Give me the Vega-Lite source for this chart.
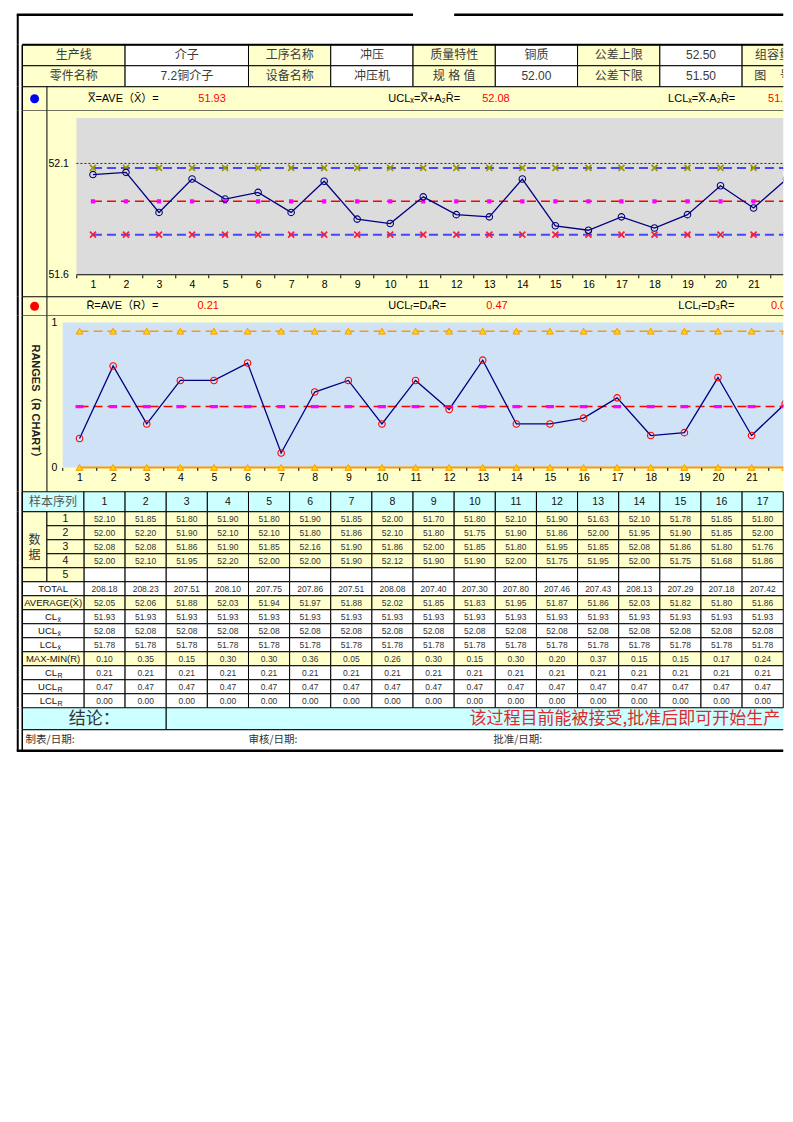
{
  "$schema": "https://vega.github.io/schema/vega-lite/v6.json",
  "background": "#FFFFFF",
  "padding": {"left": 15.25, "top": 12.75, "right": 0, "bottom": 0},
  "bounds": "flush",
  "spacing": 0,
  "config": {
    "view": {"stroke": null},
    "text": {"font": "Liberation Sans, DejaVu Sans, Noto Sans CJK SC"},
    "axis": {"labelFont": "Liberation Sans", "labelOverlap": false}
  },
  "datasets": {
    "samples": [
      {"n": 1, "x1": 52.10, "x2": 52.00, "x3": 52.08, "x4": 52.00, "total": 208.18, "avg": 52.05, "r": 0.10, "cl": 51.93, "ucl": 52.08, "lcl": 51.78, "clr": 0.21, "uclr": 0.47, "lclr": 0},
      {"n": 2, "x1": 51.85, "x2": 52.20, "x3": 52.08, "x4": 52.10, "total": 208.23, "avg": 52.06, "r": 0.35, "cl": 51.93, "ucl": 52.08, "lcl": 51.78, "clr": 0.21, "uclr": 0.47, "lclr": 0},
      {"n": 3, "x1": 51.80, "x2": 51.90, "x3": 51.86, "x4": 51.95, "total": 207.51, "avg": 51.88, "r": 0.15, "cl": 51.93, "ucl": 52.08, "lcl": 51.78, "clr": 0.21, "uclr": 0.47, "lclr": 0},
      {"n": 4, "x1": 51.90, "x2": 52.10, "x3": 51.90, "x4": 52.20, "total": 208.10, "avg": 52.03, "r": 0.30, "cl": 51.93, "ucl": 52.08, "lcl": 51.78, "clr": 0.21, "uclr": 0.47, "lclr": 0},
      {"n": 5, "x1": 51.80, "x2": 52.10, "x3": 51.85, "x4": 52.00, "total": 207.75, "avg": 51.94, "r": 0.30, "cl": 51.93, "ucl": 52.08, "lcl": 51.78, "clr": 0.21, "uclr": 0.47, "lclr": 0},
      {"n": 6, "x1": 51.90, "x2": 51.80, "x3": 52.16, "x4": 52.00, "total": 207.86, "avg": 51.97, "r": 0.36, "cl": 51.93, "ucl": 52.08, "lcl": 51.78, "clr": 0.21, "uclr": 0.47, "lclr": 0},
      {"n": 7, "x1": 51.85, "x2": 51.86, "x3": 51.90, "x4": 51.90, "total": 207.51, "avg": 51.88, "r": 0.05, "cl": 51.93, "ucl": 52.08, "lcl": 51.78, "clr": 0.21, "uclr": 0.47, "lclr": 0},
      {"n": 8, "x1": 52.00, "x2": 52.10, "x3": 51.86, "x4": 52.12, "total": 208.08, "avg": 52.02, "r": 0.26, "cl": 51.93, "ucl": 52.08, "lcl": 51.78, "clr": 0.21, "uclr": 0.47, "lclr": 0},
      {"n": 9, "x1": 51.70, "x2": 51.80, "x3": 52.00, "x4": 51.90, "total": 207.40, "avg": 51.85, "r": 0.30, "cl": 51.93, "ucl": 52.08, "lcl": 51.78, "clr": 0.21, "uclr": 0.47, "lclr": 0},
      {"n": 10, "x1": 51.80, "x2": 51.75, "x3": 51.85, "x4": 51.90, "total": 207.30, "avg": 51.83, "r": 0.15, "cl": 51.93, "ucl": 52.08, "lcl": 51.78, "clr": 0.21, "uclr": 0.47, "lclr": 0},
      {"n": 11, "x1": 52.10, "x2": 51.90, "x3": 51.80, "x4": 52.00, "total": 207.80, "avg": 51.95, "r": 0.30, "cl": 51.93, "ucl": 52.08, "lcl": 51.78, "clr": 0.21, "uclr": 0.47, "lclr": 0},
      {"n": 12, "x1": 51.90, "x2": 51.86, "x3": 51.95, "x4": 51.75, "total": 207.46, "avg": 51.87, "r": 0.20, "cl": 51.93, "ucl": 52.08, "lcl": 51.78, "clr": 0.21, "uclr": 0.47, "lclr": 0},
      {"n": 13, "x1": 51.63, "x2": 52.00, "x3": 51.85, "x4": 51.95, "total": 207.43, "avg": 51.86, "r": 0.37, "cl": 51.93, "ucl": 52.08, "lcl": 51.78, "clr": 0.21, "uclr": 0.47, "lclr": 0},
      {"n": 14, "x1": 52.10, "x2": 51.95, "x3": 52.08, "x4": 52.00, "total": 208.13, "avg": 52.03, "r": 0.15, "cl": 51.93, "ucl": 52.08, "lcl": 51.78, "clr": 0.21, "uclr": 0.47, "lclr": 0},
      {"n": 15, "x1": 51.78, "x2": 51.90, "x3": 51.86, "x4": 51.75, "total": 207.29, "avg": 51.82, "r": 0.15, "cl": 51.93, "ucl": 52.08, "lcl": 51.78, "clr": 0.21, "uclr": 0.47, "lclr": 0},
      {"n": 16, "x1": 51.85, "x2": 51.85, "x3": 51.80, "x4": 51.68, "total": 207.18, "avg": 51.80, "r": 0.17, "cl": 51.93, "ucl": 52.08, "lcl": 51.78, "clr": 0.21, "uclr": 0.47, "lclr": 0},
      {"n": 17, "x1": 51.80, "x2": 52.00, "x3": 51.76, "x4": 51.86, "total": 207.42, "avg": 51.86, "r": 0.24, "cl": 51.93, "ucl": 52.08, "lcl": 51.78, "clr": 0.21, "uclr": 0.47, "lclr": 0},
      {"n": 18, "avg": 51.81, "r": 0.11, "cl": 51.93, "ucl": 52.08, "lcl": 51.78, "clr": 0.21, "uclr": 0.47, "lclr": 0},
      {"n": 19, "avg": 51.87, "r": 0.12, "cl": 51.93, "ucl": 52.08, "lcl": 51.78, "clr": 0.21, "uclr": 0.47, "lclr": 0},
      {"n": 20, "avg": 52.00, "r": 0.31, "cl": 51.93, "ucl": 52.08, "lcl": 51.78, "clr": 0.21, "uclr": 0.47, "lclr": 0},
      {"n": 21, "avg": 51.90, "r": 0.11, "cl": 51.93, "ucl": 52.08, "lcl": 51.78, "clr": 0.21, "uclr": 0.47, "lclr": 0},
      {"n": 22, "avg": 52.03, "r": 0.22, "cl": 51.93, "ucl": 52.08, "lcl": 51.78, "clr": 0.21, "uclr": 0.47, "lclr": 0},
      {"n": 23, "cl": 51.93, "ucl": 52.08, "lcl": 51.78, "clr": 0.21, "uclr": 0.47, "lclr": 0},
      {"n": 24, "cl": 51.93, "ucl": 52.08, "lcl": 51.78, "clr": 0.21, "uclr": 0.47, "lclr": 0},
      {"n": 25, "cl": 51.93, "ucl": 52.08, "lcl": 51.78, "clr": 0.21, "uclr": 0.47, "lclr": 0}
    ],
    "rowspec": [
      {"key": "x1", "ri": 0, "kind": "gray"},
      {"key": "x2", "ri": 1, "kind": "gray"},
      {"key": "x3", "ri": 2, "kind": "gray"},
      {"key": "x4", "ri": 3, "kind": "gray"},
      {"key": "x5", "ri": 4, "kind": "white"},
      {"key": "total", "ri": 5, "kind": "white"},
      {"key": "avg", "ri": 6, "kind": "cyan"},
      {"key": "cl", "ri": 7, "kind": "yellow"},
      {"key": "ucl", "ri": 8, "kind": "yellow"},
      {"key": "lcl", "ri": 9, "kind": "yellow"},
      {"key": "r", "ri": 10, "kind": "cyan"},
      {"key": "clr", "ri": 11, "kind": "yellow"},
      {"key": "uclr", "ri": 12, "kind": "yellow"},
      {"key": "lclr", "ri": 13, "kind": "yellow"}
    ],
    "rowlabels": [
      {"lab": "数\n\n据", "sub": "", "c0": -1.5, "c1": -0.9, "r0": 0, "r1": 4, "kind": "gray"},
      {"lab": "", "sub": "", "c0": -1.5, "c1": -0.9, "r0": 4, "r1": 5, "kind": "gray"},
      {"lab": "1", "sub": "", "c0": -0.9, "c1": 0, "r0": 0, "r1": 1, "kind": "gray"},
      {"lab": "2", "sub": "", "c0": -0.9, "c1": 0, "r0": 1, "r1": 2, "kind": "gray"},
      {"lab": "3", "sub": "", "c0": -0.9, "c1": 0, "r0": 2, "r1": 3, "kind": "gray"},
      {"lab": "4", "sub": "", "c0": -0.9, "c1": 0, "r0": 3, "r1": 4, "kind": "gray"},
      {"lab": "5", "sub": "", "c0": -0.9, "c1": 0, "r0": 4, "r1": 5, "kind": "gray"},
      {"lab": "TOTAL", "sub": "", "c0": -1.5, "c1": 0, "r0": 5, "r1": 6, "kind": "white"},
      {"lab": "AVERAGE(X\u0304)", "sub": "", "c0": -1.5, "c1": 0, "r0": 6, "r1": 7, "kind": "cyan"},
      {"lab": "CL", "sub": "x\u0304", "c0": -1.5, "c1": 0, "r0": 7, "r1": 8, "kind": "yellow"},
      {"lab": "UCL", "sub": "x\u0304", "c0": -1.5, "c1": 0, "r0": 8, "r1": 9, "kind": "yellow"},
      {"lab": "LCL", "sub": "x\u0304", "c0": -1.5, "c1": 0, "r0": 9, "r1": 10, "kind": "yellow"},
      {"lab": "MAX-MIN(R)", "sub": "", "c0": -1.5, "c1": 0, "r0": 10, "r1": 11, "kind": "cyan"},
      {"lab": "CL", "sub": "R", "c0": -1.5, "c1": 0, "r0": 11, "r1": 12, "kind": "yellow"},
      {"lab": "UCL", "sub": "R", "c0": -1.5, "c1": 0, "r0": 12, "r1": 13, "kind": "yellow"},
      {"lab": "LCL", "sub": "R", "c0": -1.5, "c1": 0, "r0": 13, "r1": 14, "kind": "yellow"}
    ],
    "headtable": [
      {"t": "生产线", "c0": -1.5, "c1": 1, "r0": 0, "kind": "label"},
      {"t": "介子", "c0": 1, "c1": 4, "r0": 0, "kind": "value"},
      {"t": "工序名称", "c0": 4, "c1": 6, "r0": 0, "kind": "label"},
      {"t": "冲压", "c0": 6, "c1": 8, "r0": 0, "kind": "value"},
      {"t": "质量特性", "c0": 8, "c1": 10, "r0": 0, "kind": "label"},
      {"t": "铜质", "c0": 10, "c1": 12, "r0": 0, "kind": "value"},
      {"t": "公差上限", "c0": 12, "c1": 14, "r0": 0, "kind": "label"},
      {"t": "52.50", "c0": 14, "c1": 16, "r0": 0, "kind": "value"},
      {"t": "组容量", "c0": 16, "c1": 17.5, "r0": 0, "kind": "label"},
      {"t": "零件名称", "c0": -1.5, "c1": 1, "r0": 1, "kind": "label"},
      {"t": "7.2铜介子", "c0": 1, "c1": 4, "r0": 1, "kind": "value"},
      {"t": "设备名称", "c0": 4, "c1": 6, "r0": 1, "kind": "label"},
      {"t": "冲压机", "c0": 6, "c1": 8, "r0": 1, "kind": "value"},
      {"t": "规 格 值", "c0": 8, "c1": 10, "r0": 1, "kind": "label"},
      {"t": "52.00", "c0": 10, "c1": 12, "r0": 1, "kind": "value"},
      {"t": "公差下限", "c0": 12, "c1": 14, "r0": 1, "kind": "label"},
      {"t": "51.50", "c0": 14, "c1": 16, "r0": 1, "kind": "value"},
      {"t": "图\u00a0\u00a0\u00a0\u00a0号", "c0": 16, "c1": 17.5, "r0": 1, "kind": "label"}
    ]
  },
  "vconcat": [
    {
      "width": 761, "height": 30,
      "data": {"values": [{}]},
      "layer": [
        {"mark": {"type": "rule", "xOffset": -4.5, "strokeWidth": 2, "color": "#000000"},
         "encoding": {"x": {"datum": -1.5, "scale": {"domain": [-1.5, 17], "nice": false, "zero": false}, "axis": null}}},
        {"mark": {"type": "rule", "xOffset": -5.5, "strokeWidth": 2.5, "color": "#000000"},
         "encoding": {"x": {"datum": -1.5, "axis": null}, "x2": {"datum": 8}, "y": {"datum": 1, "scale": {"domain": [0, 1], "nice": false, "zero": false}, "axis": null}}},
        {"mark": {"type": "rule", "strokeWidth": 2.5, "color": "#000000"},
         "encoding": {"x": {"datum": 9, "axis": null}, "x2": {"datum": 17}, "y": {"datum": 1, "axis": null}}}
      ]
    },
    {
      "width": 761, "height": 42,
      "layer": [
        {
          "data": {"name": "headtable"},
          "transform": [
            {"calculate": "(datum.c0 + datum.c1) / 2", "as": "cx"},
            {"calculate": "datum.r0 + 0.5", "as": "cy"},
            {"calculate": "datum.r0 + 1", "as": "r1"}
          ],
          "layer": [
            {"mark": {"type": "rect", "stroke": "#000000", "strokeWidth": 1, "clip": true},
             "encoding": {
               "x": {"field": "c0", "type": "quantitative", "scale": {"domain": [-1.5, 17], "nice": false, "zero": false}, "axis": null},
               "x2": {"field": "c1"},
               "y": {"field": "r0", "type": "quantitative", "scale": {"domain": [0, 2], "reverse": true, "nice": false, "zero": false}, "axis": null},
               "y2": {"field": "r1"},
               "fill": {"field": "kind", "type": "nominal", "scale": {"domain": ["label", "value"], "range": ["#FFFFCC", "#FFFFFF"]}, "legend": null}
             }},
            {"mark": {"type": "text", "fontSize": 12, "color": "#3A3A3A", "clip": true},
             "encoding": {
               "x": {"field": "cx", "type": "quantitative", "axis": null},
               "y": {"field": "cy", "type": "quantitative", "axis": null},
               "text": {"field": "t"}
             }}
          ]
        },
        {"data": {"values": [{}]}, "mark": {"type": "rule", "strokeWidth": 2, "color": "#000000"},
         "encoding": {"x": {"datum": -1.5, "axis": null}, "x2": {"datum": 17}, "y": {"datum": 0, "axis": null}}},
        {"data": {"values": [{}]}, "mark": {"type": "rule", "xOffset": -4.5, "strokeWidth": 2, "color": "#000000"},
         "encoding": {"x": {"datum": -1.5, "axis": null}}},
        {"data": {"values": [{}]}, "mark": {"type": "rule", "strokeWidth": 1.5, "color": "#000000"},
         "encoding": {"x": {"datum": -1.5, "axis": null}}}
      ]
    },
    {
      "width": 761, "height": 24,
      "view": {"fill": "#FFFFCC"},
      "layer": [
        {"data": {"values": [{}]}, "mark": {"type": "rule", "xOffset": -4.5, "strokeWidth": 2, "color": "#000000"},
         "encoding": {"x": {"datum": -1.5, "scale": {"domain": [-1.5, 17], "nice": false, "zero": false}, "axis": null}}},
        {"data": {"values": [{}]}, "mark": {"type": "rule", "strokeWidth": 1.5, "color": "#000000"},
         "encoding": {"x": {"datum": -1.5, "axis": null}}},
        {"data": {"values": [{}]}, "mark": {"type": "rule", "strokeWidth": 1, "color": "#000000"},
         "encoding": {"x": {"datum": -0.9, "axis": null}}},
        {"data": {"values": [{}]}, "mark": {"type": "rule", "strokeWidth": 1, "color": "#000000"},
         "encoding": {"x": {"datum": -1.5, "axis": null}, "x2": {"datum": 17}, "y": {"datum": 1, "scale": {"domain": [0, 1], "nice": false, "zero": false}, "axis": null}}},
        {"data": {"values": [{}]}, "mark": {"type": "rule", "strokeWidth": 1, "color": "#000000"},
         "encoding": {"x": {"datum": -1.5, "axis": null}, "x2": {"datum": 17}, "y": {"datum": 0, "axis": null}}},
        {"data": {"values": [{}]}, "mark": {"type": "point", "filled": true, "color": "#0000FF", "size": 80, "opacity": 1},
         "encoding": {"x": {"datum": -1.2, "axis": null}}},
        {"data": {"values": [{"t": "X\u033f=AVE\uff08X\u0304\uff09="}]}, "mark": {"type": "text", "align": "left", "fontSize": 11, "color": "#000000"},
         "encoding": {"x": {"datum": 0.1, "axis": null}, "text": {"field": "t"}}},
        {"data": {"values": [{"t": "51.93"}]}, "mark": {"type": "text", "align": "left", "fontSize": 11, "color": "#FF0000"},
         "encoding": {"x": {"datum": 2.78, "axis": null}, "text": {"field": "t"}}},
        {"data": {"values": [{"t": "UCL\u2093=X\u033f+A\u2082R\u0304="}]}, "mark": {"type": "text", "align": "left", "fontSize": 11, "color": "#000000"},
         "encoding": {"x": {"datum": 7.4, "axis": null}, "text": {"field": "t"}}},
        {"data": {"values": [{"t": "52.08"}]}, "mark": {"type": "text", "align": "left", "fontSize": 11, "color": "#FF0000"},
         "encoding": {"x": {"datum": 9.68, "axis": null}, "text": {"field": "t"}}},
        {"data": {"values": [{"t": "LCL\u2093=X\u033f-A\u2082R\u0304="}]}, "mark": {"type": "text", "align": "left", "fontSize": 11, "color": "#000000"},
         "encoding": {"x": {"datum": 14.2, "axis": null}, "text": {"field": "t"}}},
        {"data": {"values": [{"t": "51.78"}]}, "mark": {"type": "text", "align": "left", "fontSize": 11, "color": "#FF0000", "clip": true},
         "encoding": {"x": {"datum": 16.63, "axis": null}, "text": {"field": "t"}}}
      ]
    },
    {
      "width": 761, "height": 186,
      "view": {"fill": "#FFFFCC"},
      "resolve": {"scale": {"x": "independent", "y": "independent"}},
      "layer": [
        {
          "data": {"values": [{}]},
          "layer": [
            {"mark": {"type": "rule", "xOffset": -4.5, "strokeWidth": 2, "color": "#000000"},
             "encoding": {"x": {"datum": -1.5, "scale": {"domain": [-1.5, 17], "nice": false, "zero": false}, "axis": null}}},
            {"mark": {"type": "rule", "strokeWidth": 1.5, "color": "#000000"},
             "encoding": {"x": {"datum": -1.5, "axis": null}}},
            {"mark": {"type": "rule", "strokeWidth": 1, "color": "#000000"},
             "encoding": {"x": {"datum": -0.9, "axis": null}}}
          ]
        },
        {
          "layer": [
            {
              "data": {"values": [{}]},
              "encoding": {
                "x": {"datum": 0.5, "axis": {"title": null, "orient": "bottom", "offset": -22, "zindex": 2,
                               "values": [0.5, 1.5, 2.5, 3.5, 4.5, 5.5, 6.5, 7.5, 8.5, 9.5, 10.5, 11.5, 12.5, 13.5, 14.5, 15.5, 16.5, 17.5, 18.5, 19.5, 20.5, 21.5],
                               "labelExpr": "datum.value < 21 ? format(datum.value + 0.5, 'd') : ''",
                               "labelOffset": 16.5, "domain": false, "grid": false, "ticks": true, "tickSize": 3,
                               "tickColor": "#000000", "tickWidth": 1, "labelPadding": 2, "labelFontSize": 10.5,
                               "labelColor": "#000000", "labelOverlap": false, "labelFlush": false, "labelBound": false}},
                "x2": {"datum": 25.5},
                "y": {"datum": 51.6, "axis": {"title": null, "orient": "left", "offset": -54.2, "zindex": 2, "values": [51.6, 52.1], "format": ".1f",
                               "domain": false, "ticks": false, "tickSize": 0, "grid": false, "labelPadding": 8,
                               "labelFontSize": 10.5, "labelColor": "#000000", "labelOverlap": false, "labelFlush": false}}
              },
              "layer": [
                {"mark": {"type": "rect", "fill": "#DCDCDC", "clip": true}, "encoding": {"y2": {"datum": 52.304}}},
                {"mark": {"type": "rule", "color": "#000000", "strokeWidth": 1, "clip": true}, "encoding": {}},
                {"mark": {"type": "rule", "color": "#800000", "strokeDash": [2, 2], "strokeWidth": 1, "clip": true},
                 "encoding": {"y": {"datum": 52.1, "axis": {"title": null, "orient": "left", "offset": -54.2, "zindex": 2, "values": [51.6, 52.1], "format": ".1f",
                               "domain": false, "ticks": false, "tickSize": 0, "grid": false, "labelPadding": 8,
                               "labelFontSize": 10.5, "labelColor": "#000000", "labelOverlap": false, "labelFlush": false}}}}
              ]
            },
            {
              "data": {"name": "samples"},
              "transform": [{"fold": ["ucl", "cl", "lcl", "avg"], "as": ["key", "val"]}],
              "encoding": {
                "x": {"field": "n", "type": "quantitative",
                      "scale": {"domain": [-1.1405, 21.899], "nice": false, "zero": false},
                      "axis": {"title": null, "orient": "bottom", "offset": -22, "zindex": 2,
                               "values": [0.5, 1.5, 2.5, 3.5, 4.5, 5.5, 6.5, 7.5, 8.5, 9.5, 10.5, 11.5, 12.5, 13.5, 14.5, 15.5, 16.5, 17.5, 18.5, 19.5, 20.5, 21.5],
                               "labelExpr": "datum.value < 21 ? format(datum.value + 0.5, 'd') : ''",
                               "labelOffset": 16.5, "domain": false, "grid": false, "ticks": true, "tickSize": 3,
                               "tickColor": "#000000", "tickWidth": 1, "labelPadding": 2, "labelFontSize": 10.5,
                               "labelColor": "#000000", "labelOverlap": false, "labelFlush": false, "labelBound": false}},
                "y": {"field": "val", "type": "quantitative",
                      "scale": {"domain": [51.5012, 52.3367], "nice": false, "zero": false},
                      "axis": {"title": null, "orient": "left", "offset": -54.2, "zindex": 2, "values": [51.6, 52.1], "format": ".1f",
                               "domain": false, "ticks": false, "tickSize": 0, "grid": false, "labelPadding": 8,
                               "labelFontSize": 10.5, "labelColor": "#000000", "labelOverlap": false, "labelFlush": false}}
              },
              "layer": [
                {"transform": [{"filter": "datum.key == 'lcl'"}], "mark": {"type": "line", "color": "#4646FF", "strokeWidth": 2, "strokeDash": [9, 5], "clip": true}, "encoding": {}},
                {"transform": [{"filter": "datum.key == 'ucl'"}], "mark": {"type": "line", "color": "#4646FF", "strokeWidth": 2, "strokeDash": [9, 5], "clip": true}, "encoding": {}},
                {"transform": [{"filter": "datum.key == 'cl'"}], "mark": {"type": "line", "color": "#FF0000", "strokeWidth": 1.5, "strokeDash": [9, 5], "clip": true}, "encoding": {}},
                {"transform": [{"filter": "datum.key == 'avg'"}], "mark": {"type": "line", "color": "#000080", "strokeWidth": 1.3, "clip": true}, "encoding": {}},
                {"transform": [{"filter": "datum.key == 'ucl'"}], "mark": {"type": "point", "shape": "M-1,-1L1,1M-1,1L1,-1", "filled": false, "color": "#9A9A00", "strokeWidth": 1.7, "size": 36, "opacity": 1, "clip": true}, "encoding": {}},
                {"transform": [{"filter": "datum.key == 'lcl'"}], "mark": {"type": "point", "shape": "M-1,-1L1,1M-1,1L1,-1", "filled": false, "color": "#FF1A3C", "strokeWidth": 1.7, "size": 36, "opacity": 1, "clip": true}, "encoding": {}},
                {"transform": [{"filter": "datum.key == 'cl'"}], "mark": {"type": "point", "shape": "square", "filled": true, "color": "#FF00FF", "size": 18, "opacity": 1, "clip": true}, "encoding": {}},
                {"transform": [{"filter": "datum.key == 'avg'"}], "mark": {"type": "point", "shape": "circle", "filled": false, "color": "#000080", "strokeWidth": 1.1, "size": 42, "opacity": 1, "clip": true}, "encoding": {}}
              ]
            }
          ]
        }
      ]
    },
    {
      "width": 761, "height": 19,
      "view": {"fill": "#FFFFCC"},
      "layer": [
        {"data": {"values": [{}]}, "mark": {"type": "rule", "xOffset": -4.5, "strokeWidth": 2, "color": "#000000"},
         "encoding": {"x": {"datum": -1.5, "scale": {"domain": [-1.5, 17], "nice": false, "zero": false}, "axis": null}}},
        {"data": {"values": [{}]}, "mark": {"type": "rule", "strokeWidth": 1.5, "color": "#000000"},
         "encoding": {"x": {"datum": -1.5, "axis": null}}},
        {"data": {"values": [{}]}, "mark": {"type": "rule", "strokeWidth": 1, "color": "#000000"},
         "encoding": {"x": {"datum": -0.9, "axis": null}}},
        {"data": {"values": [{}]}, "mark": {"type": "rule", "strokeWidth": 1, "color": "#000000"},
         "encoding": {"x": {"datum": -1.5, "axis": null}, "x2": {"datum": 17}, "y": {"datum": 1, "scale": {"domain": [0, 1], "nice": false, "zero": false}, "axis": null}}},
        {"data": {"values": [{}]}, "mark": {"type": "rule", "strokeWidth": 1, "color": "#000000"},
         "encoding": {"x": {"datum": -1.5, "axis": null}, "x2": {"datum": 17}, "y": {"datum": 0, "axis": null}}},
        {"data": {"values": [{}]}, "mark": {"type": "point", "filled": true, "color": "#FF0000", "size": 80, "opacity": 1},
         "encoding": {"x": {"datum": -1.2, "axis": null}}},
        {"data": {"values": [{"t": "R\u0304=AVE\uff08R\uff09="}]}, "mark": {"type": "text", "align": "left", "fontSize": 11, "color": "#000000"},
         "encoding": {"x": {"datum": 0.06, "axis": null}, "text": {"field": "t"}}},
        {"data": {"values": [{"t": "0.21"}]}, "mark": {"type": "text", "align": "left", "fontSize": 11, "color": "#FF0000"},
         "encoding": {"x": {"datum": 2.76, "axis": null}, "text": {"field": "t"}}},
        {"data": {"values": [{"t": "UCL\u1d63=D\u2084R\u0304="}]}, "mark": {"type": "text", "align": "left", "fontSize": 11, "color": "#000000"},
         "encoding": {"x": {"datum": 7.4, "axis": null}, "text": {"field": "t"}}},
        {"data": {"values": [{"t": "0.47"}]}, "mark": {"type": "text", "align": "left", "fontSize": 11, "color": "#FF0000"},
         "encoding": {"x": {"datum": 9.78, "axis": null}, "text": {"field": "t"}}},
        {"data": {"values": [{"t": "LCL\u1d63=D\u2083R\u0304="}]}, "mark": {"type": "text", "align": "left", "fontSize": 11, "color": "#000000"},
         "encoding": {"x": {"datum": 14.45, "axis": null}, "text": {"field": "t"}}},
        {"data": {"values": [{"t": "0.00"}]}, "mark": {"type": "text", "align": "left", "fontSize": 11, "color": "#FF0000", "clip": true},
         "encoding": {"x": {"datum": 16.7, "axis": null}, "text": {"field": "t"}}}
      ]
    },
    {
      "width": 761, "height": 176,
      "view": {"fill": "#FFFFCC"},
      "resolve": {"scale": {"x": "independent", "y": "independent"}},
      "layer": [
        {
          "data": {"values": [{}]},
          "layer": [
            {"mark": {"type": "rule", "xOffset": -4.5, "strokeWidth": 2, "color": "#000000"},
             "encoding": {"x": {"datum": -1.5, "scale": {"domain": [-1.5, 17], "nice": false, "zero": false}, "axis": null}}},
            {"mark": {"type": "rule", "strokeWidth": 1.5, "color": "#000000"},
             "encoding": {"x": {"datum": -1.5, "axis": null}}},
            {"mark": {"type": "rule", "strokeWidth": 1, "color": "#000000"},
             "encoding": {"x": {"datum": -0.9, "axis": null}}},
            {"mark": {"type": "text", "angle": 90, "fontSize": 11, "fontWeight": "bold", "color": "#222222"},
             "encoding": {"x": {"datum": -1.2, "axis": null}, "text": {"value": "RANGES\uff08R CHART\uff09"}}}
          ]
        },
        {
          "layer": [
            {"data": {"values": [{}]}, "mark": {"type": "rect", "fill": "#CFE2F6", "clip": true},
             "encoding": {
               "x": {"datum": 0.5, "axis": {"title": null, "orient": "bottom", "offset": -24.3, "zindex": 2,
                               "values": [0.5, 1.5, 2.5, 3.5, 4.5, 5.5, 6.5, 7.5, 8.5, 9.5, 10.5, 11.5, 12.5, 13.5, 14.5, 15.5, 16.5, 17.5, 18.5, 19.5, 20.5, 21.5],
                               "labelExpr": "datum.value < 21 ? format(datum.value + 0.5, 'd') : ''",
                               "labelOffset": 16.8, "domain": false, "grid": false, "ticks": true, "tickSize": 3,
                               "tickColor": "#000000", "tickWidth": 1, "labelPadding": 2, "labelFontSize": 10.5,
                               "labelColor": "#000000", "labelOverlap": false, "labelFlush": false, "labelBound": false}},
               "x2": {"datum": 25.5},
               "y": {"datum": 0, "axis": {"title": null, "orient": "left", "offset": -40.5, "zindex": 2, "values": [0, 0.5],
                               "labelExpr": "datum.value > 0.25 ? '1' : '0'",
                               "domain": false, "ticks": false, "tickSize": 0, "grid": false, "labelPadding": 6,
                               "labelFontSize": 10.5, "labelColor": "#000000", "labelOverlap": false, "labelFlush": false}},
               "y2": {"datum": 0.5}}},
            {
              "data": {"name": "samples"},
              "transform": [{"fold": ["uclr", "clr", "lclr", "r"], "as": ["key", "val"]}],
              "encoding": {
                "x": {"field": "n", "type": "quantitative",
                      "scale": {"domain": [-0.705, 21.943], "nice": false, "zero": false},
                      "axis": {"title": null, "orient": "bottom", "offset": -24.3, "zindex": 2,
                               "values": [0.5, 1.5, 2.5, 3.5, 4.5, 5.5, 6.5, 7.5, 8.5, 9.5, 10.5, 11.5, 12.5, 13.5, 14.5, 15.5, 16.5, 17.5, 18.5, 19.5, 20.5, 21.5],
                               "labelExpr": "datum.value < 21 ? format(datum.value + 0.5, 'd') : ''",
                               "labelOffset": 16.8, "domain": false, "grid": false, "ticks": true, "tickSize": 3,
                               "tickColor": "#000000", "tickWidth": 1, "labelPadding": 2, "labelFontSize": 10.5,
                               "labelColor": "#000000", "labelOverlap": false, "labelFlush": false, "labelBound": false}},
                "y": {"field": "val", "type": "quantitative",
                      "scale": {"domain": [-0.0838, 0.5231], "nice": false, "zero": false},
                      "axis": {"title": null, "orient": "left", "offset": -40.5, "zindex": 2, "values": [0, 0.5],
                               "labelExpr": "datum.value > 0.25 ? '1' : '0'",
                               "domain": false, "ticks": false, "tickSize": 0, "grid": false, "labelPadding": 6,
                               "labelFontSize": 10.5, "labelColor": "#000000", "labelOverlap": false, "labelFlush": false}}
              },
              "layer": [
                {"transform": [{"filter": "datum.key == 'lclr'"}], "mark": {"type": "line", "color": "#FF9900", "strokeWidth": 2, "clip": true}, "encoding": {}},
                {"transform": [{"filter": "datum.key == 'uclr'"}], "mark": {"type": "line", "color": "#FF9900", "strokeWidth": 1.5, "strokeDash": [9, 5], "clip": true}, "encoding": {}},
                {"transform": [{"filter": "datum.key == 'clr'"}], "mark": {"type": "line", "color": "#FF0000", "strokeWidth": 1.5, "strokeDash": [9, 5], "clip": true}, "encoding": {}},
                {"transform": [{"filter": "datum.key == 'r'"}], "mark": {"type": "line", "color": "#000080", "strokeWidth": 1.3, "clip": true}, "encoding": {}},
                {"transform": [{"filter": "datum.key == 'uclr' || datum.key == 'lclr'"}], "mark": {"type": "point", "shape": "triangle-up", "filled": true, "color": "#FFD700", "stroke": "#FF9900", "strokeWidth": 1, "size": 45, "opacity": 1, "clip": true}, "encoding": {}},
                {"transform": [{"filter": "datum.key == 'clr'"}], "mark": {"type": "point", "shape": "M-1,-0.4H1V0.4H-1Z", "filled": true, "color": "#FF00FF", "size": 64, "opacity": 1, "clip": true}, "encoding": {}},
                {"transform": [{"filter": "datum.key == 'r'"}], "mark": {"type": "point", "shape": "circle", "filled": false, "color": "#FF0000", "strokeWidth": 1.1, "size": 42, "opacity": 1, "clip": true}, "encoding": {}}
              ]
            }
          ]
        }
      ]
    },
    {
      "width": 761, "height": 20,
      "layer": [
        {"data": {"values": [{"t": "样本序列", "c0": -1.5, "c1": 0}]},
         "layer": [
           {"mark": {"type": "rect", "fill": "#CCFFFF", "stroke": "#000000", "strokeWidth": 1},
            "encoding": {"x": {"field": "c0", "type": "quantitative", "scale": {"domain": [-1.5, 17], "nice": false, "zero": false}, "axis": null}, "x2": {"field": "c1"}}},
           {"mark": {"type": "text", "fontSize": 12, "color": "#555555", "font": "Noto Sans CJK SC"},
            "encoding": {"x": {"datum": -0.75, "axis": null}, "text": {"field": "t"}}}
         ]},
        {"data": {"name": "samples"},
         "transform": [{"filter": "datum.n <= 17"}, {"calculate": "datum.n - 1", "as": "c0"}, {"calculate": "datum.n - 0.5", "as": "cx"}],
         "layer": [
           {"mark": {"type": "rect", "fill": "#CCFFFF", "stroke": "#000000", "strokeWidth": 1},
            "encoding": {"x": {"field": "c0", "type": "quantitative", "axis": null}, "x2": {"field": "n"}}},
           {"mark": {"type": "text", "fontSize": 10.5, "color": "#111111"},
            "encoding": {"x": {"field": "cx", "type": "quantitative", "axis": null}, "text": {"field": "n", "type": "quantitative"}}}
         ]},
        {"data": {"values": [{}]}, "mark": {"type": "rule", "xOffset": -4.5, "strokeWidth": 2, "color": "#000000"},
         "encoding": {"x": {"datum": -1.5, "axis": null}}},
        {"data": {"values": [{}]}, "mark": {"type": "rule", "strokeWidth": 1.5, "color": "#000000"},
         "encoding": {"x": {"datum": -1.5, "axis": null}}}
      ]
    },
    {
      "width": 761, "height": 196,
      "layer": [
        {
          "data": {"name": "samples"},
          "transform": [
            {"filter": "datum.n <= 17"},
            {"fold": ["x1", "x2", "x3", "x4", "x5", "total", "avg", "cl", "ucl", "lcl", "r", "clr", "uclr", "lclr"], "as": ["key", "val"]},
            {"lookup": "key", "from": {"data": {"name": "rowspec"}, "key": "key", "fields": ["ri", "kind"]}},
            {"calculate": "datum.n - 1", "as": "c0"},
            {"calculate": "datum.ri + 1", "as": "r1"},
            {"calculate": "datum.n - 0.5", "as": "cx"},
            {"calculate": "datum.ri + 0.5", "as": "cy"}
          ],
          "layer": [
            {"mark": {"type": "rect", "stroke": "#000000", "strokeWidth": 1},
             "encoding": {
               "x": {"field": "c0", "type": "quantitative", "scale": {"domain": [-1.5, 17], "nice": false, "zero": false}, "axis": null},
               "x2": {"field": "n"},
               "y": {"field": "ri", "type": "quantitative", "scale": {"domain": [0, 14], "reverse": true, "nice": false, "zero": false}, "axis": null},
               "y2": {"field": "r1"},
               "fill": {"field": "kind", "type": "nominal", "scale": {"domain": ["gray", "white", "cyan", "yellow"], "range": ["#C0C0C0", "#FFFFFF", "#CCFFFF", "#FFFFCC"]}, "legend": null}
             }},
            {"transform": [{"filter": "isValid(datum.val)"}],
             "mark": {"type": "text", "fontSize": 8.5, "color": "#333333"},
             "encoding": {
               "x": {"field": "cx", "type": "quantitative", "axis": null},
               "y": {"field": "cy", "type": "quantitative", "axis": null},
               "text": {"field": "val", "type": "quantitative", "format": ".2f"}
             }}
          ]
        },
        {
          "data": {"name": "rowlabels"},
          "transform": [
            {"calculate": "(datum.c0 + datum.c1) / 2", "as": "cx"},
            {"calculate": "(datum.r0 + datum.r1) / 2", "as": "cy"}
          ],
          "layer": [
            {"mark": {"type": "rect", "stroke": "#000000", "strokeWidth": 1},
             "encoding": {
               "x": {"field": "c0", "type": "quantitative", "axis": null},
               "x2": {"field": "c1"},
               "y": {"field": "r0", "type": "quantitative", "axis": null},
               "y2": {"field": "r1"},
               "fill": {"field": "kind", "type": "nominal", "legend": null}
             }},
            {"transform": [{"filter": "datum.c1 == -0.9"}],
             "mark": {"type": "text", "fontSize": 12, "color": "#333333", "lineBreak": "\n", "lineHeight": 15, "font": "Noto Sans CJK SC"},
             "encoding": {"x": {"field": "cx", "type": "quantitative", "axis": null}, "y": {"field": "cy", "type": "quantitative", "axis": null}, "text": {"field": "lab"}}},
            {"transform": [{"filter": "datum.c0 == -0.9"}],
             "mark": {"type": "text", "fontSize": 10.5, "color": "#111111"},
             "encoding": {"x": {"field": "cx", "type": "quantitative", "axis": null}, "y": {"field": "cy", "type": "quantitative", "axis": null}, "text": {"field": "lab"}}},
            {"transform": [{"filter": "datum.c0 == -1.5 && datum.c1 == 0 && datum.sub == ''"}],
             "mark": {"type": "text", "fontSize": 9.5, "color": "#111111"},
             "encoding": {"x": {"field": "cx", "type": "quantitative", "axis": null}, "y": {"field": "cy", "type": "quantitative", "axis": null}, "text": {"field": "lab"}}},
            {"transform": [{"filter": "datum.sub != ''"}],
             "mark": {"type": "text", "fontSize": 9.5, "color": "#111111", "align": "right", "dx": 4},
             "encoding": {"x": {"field": "cx", "type": "quantitative", "axis": null}, "y": {"field": "cy", "type": "quantitative", "axis": null}, "text": {"field": "lab"}}},
            {"transform": [{"filter": "datum.sub != ''"}],
             "mark": {"type": "text", "fontSize": 7, "color": "#111111", "align": "left", "dx": 4.5, "dy": 3},
             "encoding": {"x": {"field": "cx", "type": "quantitative", "axis": null}, "y": {"field": "cy", "type": "quantitative", "axis": null}, "text": {"field": "sub"}}}
          ]
        },
        {"data": {"values": [{}]}, "mark": {"type": "rule", "xOffset": -4.5, "strokeWidth": 2, "color": "#000000"},
         "encoding": {"x": {"datum": -1.5, "axis": null}}},
        {"data": {"values": [{}]}, "mark": {"type": "rule", "strokeWidth": 1.5, "color": "#000000"},
         "encoding": {"x": {"datum": -1.5, "axis": null}}}
      ]
    },
    {
      "width": 761, "height": 22,
      "layer": [
        {
          "data": {"values": [
            {"t": "结论：", "c0": -1.5, "c1": 2, "part": "head"},
            {"t": "该过程目前能被接受,批准后即可开始生产", "c0": 2, "c1": 24.3, "part": "body"}
          ]},
          "transform": [{"calculate": "(datum.c0 + datum.c1) / 2", "as": "cx"}],
          "layer": [
            {"mark": {"type": "rect", "fill": "#CCFFFF", "stroke": "#000000", "strokeWidth": 1, "clip": true},
             "encoding": {"x": {"field": "c0", "type": "quantitative", "scale": {"domain": [-1.5, 17], "nice": false, "zero": false}, "axis": null}, "x2": {"field": "c1"}}},
            {"transform": [{"filter": "datum.part == 'head'"}],
             "mark": {"type": "text", "fontSize": 17, "color": "#333333", "font": "Noto Sans CJK SC"},
             "encoding": {"x": {"field": "cx", "type": "quantitative", "axis": null}, "text": {"field": "t"}}},
            {"transform": [{"filter": "datum.part == 'body'"}],
             "mark": {"type": "text", "fontSize": 17, "color": "#E0282E", "font": "Noto Sans CJK SC", "clip": true},
             "encoding": {"x": {"field": "cx", "type": "quantitative", "axis": null}, "text": {"field": "t"}}}
          ]
        },
        {"data": {"values": [{}]}, "mark": {"type": "rule", "xOffset": -4.5, "strokeWidth": 2, "color": "#000000"},
         "encoding": {"x": {"datum": -1.5, "axis": null}}},
        {"data": {"values": [{}]}, "mark": {"type": "rule", "strokeWidth": 1.5, "color": "#000000"},
         "encoding": {"x": {"datum": -1.5, "axis": null}}}
      ]
    },
    {
      "width": 761, "height": 21,
      "layer": [
        {"data": {"values": [{}]}, "mark": {"type": "rule", "strokeWidth": 1, "color": "#000000"},
         "encoding": {"x": {"datum": -1.5, "scale": {"domain": [-1.5, 17], "nice": false, "zero": false}, "axis": null}, "x2": {"datum": 17}, "y": {"datum": 1, "scale": {"domain": [0, 1], "nice": false, "zero": false}, "axis": null}}},
        {"data": {"values": [{}]}, "mark": {"type": "rule", "strokeWidth": 2.5, "color": "#000000", "xOffset": -5.5},
         "encoding": {"x": {"datum": -1.5, "axis": null}, "x2": {"datum": 17}, "y": {"datum": 0, "axis": null}}},
        {"data": {"values": [{"t": "制表/日期:"}]}, "mark": {"type": "text", "align": "left", "fontSize": 10.5, "color": "#333333", "font": "Noto Sans CJK SC"},
         "encoding": {"x": {"datum": -1.42, "axis": null}, "text": {"field": "t"}}},
        {"data": {"values": [{"t": "审核/日期:"}]}, "mark": {"type": "text", "align": "left", "fontSize": 10.5, "color": "#333333", "font": "Noto Sans CJK SC"},
         "encoding": {"x": {"datum": 4.0, "axis": null}, "text": {"field": "t"}}},
        {"data": {"values": [{"t": "批准/日期:"}]}, "mark": {"type": "text", "align": "left", "fontSize": 10.5, "color": "#333333", "font": "Noto Sans CJK SC"},
         "encoding": {"x": {"datum": 9.95, "axis": null}, "text": {"field": "t"}}},
        {"data": {"values": [{}]}, "mark": {"type": "rule", "xOffset": -4.5, "strokeWidth": 2, "color": "#000000"},
         "encoding": {"x": {"datum": -1.5, "axis": null}}},
        {"data": {"values": [{}]}, "mark": {"type": "rule", "strokeWidth": 1.5, "color": "#000000"},
         "encoding": {"x": {"datum": -1.5, "axis": null}}}
      ]
    }
  ]
}
